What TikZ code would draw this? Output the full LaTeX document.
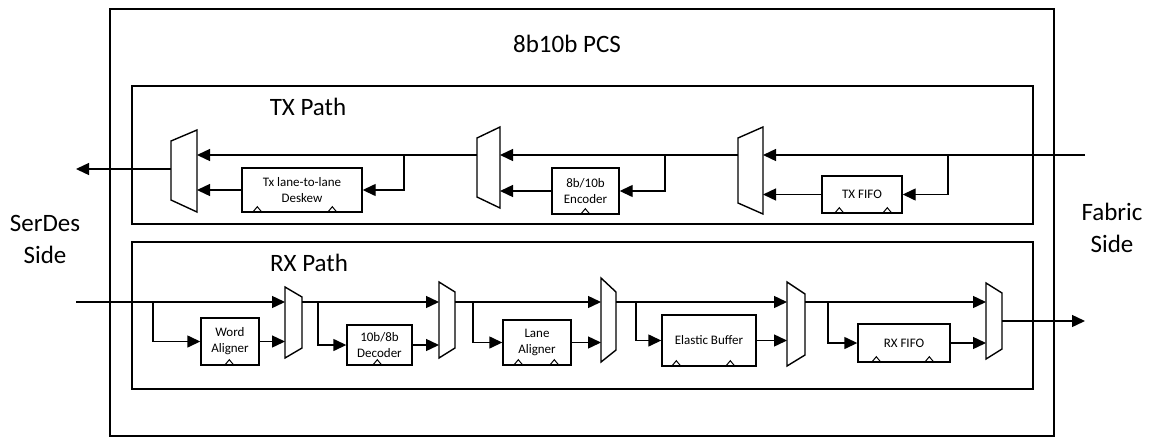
\documentclass[tikz,border=0pt]{standalone}
\usepackage{fontspec}
\setmainfont{Carlito}
\usetikzlibrary{arrows.meta}
\definecolor{Ink}{HTML}{000000}

\begin{document}
\begin{tikzpicture}[x=1pt,y=-1pt,>={Triangle[length=13pt,width=12pt]},
  frame/.style={draw=Ink,line width=1.6pt},
  blk/.style={draw=Ink,line width=1.4pt,inner sep=0pt,align=center,font=\fontsize{13}{16}\selectfont},
  mux/.style={draw=Ink,line width=1.4pt,line join=miter},
  sig/.style={->,draw=Ink,line width=1.4pt},
  clk/.style={draw=Ink,line width=1pt},
  big/.style={font=\fontsize{25}{32}\selectfont,align=center,inner sep=0pt}]
\useasboundingbox (0,0) rectangle (1151,437);
\draw[frame] (110,9) rectangle (1054,436);
\draw[frame] (132,86) rectangle (1033,224);
\draw[frame] (132,242) rectangle (1033,389);
\node[big] (pcs) at (567,44) {8b10b PCS};
\node[big] (txp) at (308,107) {TX Path};
\node[big] (rxp) at (309,263) {RX Path};
\node[big] (serdes) at (45,239) {SerDes\\Side};
\node[big] (fabric) at (1112,228) {Fabric\\Side};
% TX path
\draw[mux] (171,141) -- (197,130) -- (197,212) -- (171,200) -- cycle;
\draw[mux] (477,138) -- (500,127) -- (500,208) -- (477,197) -- cycle;
\draw[mux] (738,138) -- (763,127) -- (763,214) -- (738,203) -- cycle;
\coordinate (tm1o) at (171,169);
\coordinate (tm1a) at (197,155);
\coordinate (tm2o) at (477,155);
\coordinate (tm2a) at (500,155);
\coordinate (tm3o) at (738,155);
\coordinate (tm3a) at (763,155);
\coordinate (serout) at (76,169);
\coordinate (fabin) at (1085,155);
\coordinate (tb1) at (404,155);
\coordinate (tb2) at (665,155);
\coordinate (tb3) at (948,155);
\node[blk,minimum width=120,minimum height=44] (dsk) at (302,190) {Tx lane-to-lane\\Deskew};
\node[blk,minimum width=67,minimum height=46] (enc) at (585.5,191) {8b/10b\\Encoder};
\node[blk,minimum width=80,minimum height=37] (txf) at (862,194.5) {TX FIFO};
\draw[clk] ([xshift=11pt]dsk.south west) -- ++(5,-6) -- ++(5,6);
\draw[clk] ([xshift=86pt]dsk.south west) -- ++(5,-6) -- ++(5,6);
\draw[clk] ([xshift=29pt]enc.south west) -- ++(5,-6) -- ++(5,6);
\draw[clk] ([xshift=13pt]txf.south west) -- ++(5,-6) -- ++(5,6);
\draw[clk] ([xshift=61pt]txf.south west) -- ++(5,-6) -- ++(5,6);
\draw[sig] (fabin) -- (tm3a);
\draw[sig] (tb3) |- (txf.east);
\draw[sig] (txf.west) -- (txf.west -| tm3a);
\draw[sig] (tm3o) -- (tm2a);
\draw[sig] (tb2) |- (enc.east);
\draw[sig] (enc.west) -- (enc.west -| tm2a);
\draw[sig] (tm2o) -- (tm1a);
\draw[sig] (tb1) |- (dsk.east);
\draw[sig] (dsk.west) -- (dsk.west -| tm1a);
\draw[sig] (tm1o) -- (serout);
% RX path
\draw[mux] (285,287) -- (302,297) -- (302,348) -- (285,358) -- cycle;
\draw[mux] (439,282) -- (455,292) -- (455,348) -- (439,358) -- cycle;
\draw[mux] (601,278) -- (616,292) -- (616,350) -- (601,362) -- cycle;
\draw[mux] (787,282) -- (805,294) -- (805,355) -- (787,366) -- cycle;
\draw[mux] (986,283) -- (1002,293) -- (1002,349) -- (986,359) -- cycle;
\coordinate (serin) at (76,302);
\coordinate (rm1a) at (285,302);
\coordinate (rm1o) at (302,302);
\coordinate (rm2a) at (439,302);
\coordinate (rm2o) at (455,302);
\coordinate (rm3a) at (601,302);
\coordinate (rm3o) at (616,302);
\coordinate (rm4a) at (787,302);
\coordinate (rm4o) at (805,302);
\coordinate (rm5a) at (986,302);
\coordinate (rm5o) at (1002,321);
\coordinate (fabout) at (1085,321);
\coordinate (rb1) at (153,302);
\coordinate (rb2) at (318,302);
\coordinate (rb3) at (473,302);
\coordinate (rb4) at (636,302);
\coordinate (rb5) at (828,302);
\node[blk,minimum width=58,minimum height=47] (wal) at (230,341.5) {Word\\Aligner};
\node[blk,minimum width=65,minimum height=40] (dec) at (379.5,345) {10b/8b\\Decoder};
\node[blk,minimum width=68,minimum height=45] (lal) at (537,342.5) {Lane\\Aligner};
\node[blk,minimum width=94,minimum height=51] (ebuf) at (709,340.5) {Elastic Buffer};
\node[blk,minimum width=92,minimum height=38] (rxf) at (904,343) {RX FIFO};
\draw[clk] ([xshift=24pt]wal.south west) -- ++(5,-6) -- ++(5,6);
\draw[clk] ([xshift=26pt]dec.south west) -- ++(5,-6) -- ++(5,6);
\draw[clk] ([xshift=11pt]lal.south west) -- ++(5,-6) -- ++(5,6);
\draw[clk] ([xshift=47pt]lal.south west) -- ++(5,-6) -- ++(5,6);
\draw[clk] ([xshift=10pt]ebuf.south west) -- ++(5,-6) -- ++(5,6);
\draw[clk] ([xshift=64pt]ebuf.south west) -- ++(5,-6) -- ++(5,6);
\draw[clk] ([xshift=14pt]rxf.south west) -- ++(5,-6) -- ++(5,6);
\draw[clk] ([xshift=67pt]rxf.south west) -- ++(5,-6) -- ++(5,6);
\draw[sig] (serin) -- (rm1a);
\draw[sig] (rb1) |- (wal.west);
\draw[sig] (wal.east) -- (wal.east -| rm1a);
\draw[sig] (rm1o) -- (rm2a);
\draw[sig] (rb2) |- (dec.west);
\draw[sig] (dec.east) -- (dec.east -| rm2a);
\draw[sig] (rm2o) -- (rm3a);
\draw[sig] (rb3) |- (lal.west);
\draw[sig] (lal.east) -- (lal.east -| rm3a);
\draw[sig] (rm3o) -- (rm4a);
\draw[sig] (rb4) |- (ebuf.west);
\draw[sig] (ebuf.east) -- (ebuf.east -| rm4a);
\draw[sig] (rm4o) -- (rm5a);
\draw[sig] (rb5) |- (rxf.west);
\draw[sig] (rxf.east) -- (rxf.east -| rm5a);
\draw[sig] (rm5o) -- (fabout);
\end{tikzpicture}
\end{document}
